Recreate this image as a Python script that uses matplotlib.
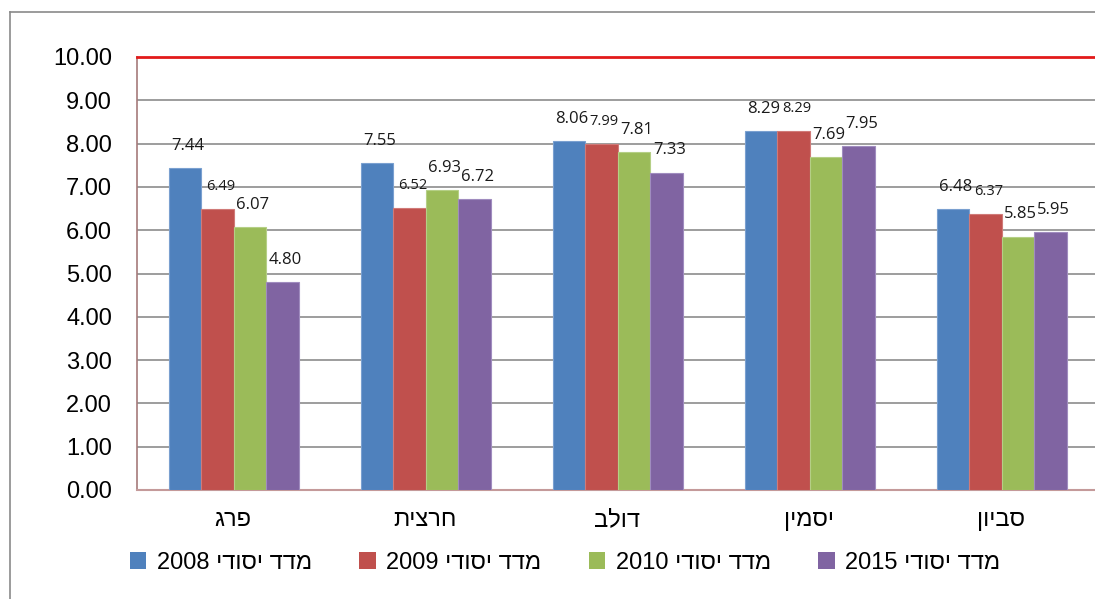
import matplotlib
matplotlib.use("Agg")
import matplotlib.pyplot as plt
from matplotlib.lines import Line2D
from matplotlib.patches import Patch
import numpy as np

categories = ["פרג", "חרצית", "דולב", "יסמין", "סביון"]
series_names = ["מדד יסודי 2008", "מדד יסודי 2009", "מדד יסודי 2010", "מדד יסודי 2015"]
v2008 = [7.44, 7.55, 8.06, 8.29, 6.48]
v2009 = [6.49, 6.52, 7.99, 8.29, 6.37]
v2010 = [6.07, 6.93, 7.81, 7.69, 5.85]
v2015 = [4.80, 6.72, 7.33, 7.95, 5.95]
yticks = [0, 1, 2, 3, 4, 5, 6, 7, 8, 9, 10]

colors = ["#4f81bd", "#c0504d", "#9bbb59", "#8064a2"]
edges = ["#7aa0d0", "#d07a78", "#b5cf86", "#a08cbf"]
label_sizes = [12, 10.5, 12, 12]


def visual(s):
    # simple bidi: reverse word order and reverse Hebrew words
    words = s.split(" ")
    out = []
    for w in reversed(words):
        if any('\u0590' <= c <= '\u05ff' for c in w):
            out.append(w[::-1])
        else:
            out.append(w)
    return " ".join(out)


plt.rcParams['font.family'] = ['Liberation Sans', 'DejaVu Sans']

W, H = 1095, 599
fig = plt.figure(figsize=(W / 100, H / 100), dpi=100)
ax = fig.add_axes([137 / W, 1 - 490 / H, 960 / W, (490 - 57) / H])

data = [v2008, v2009, v2010, v2015]
n = len(categories)
x = np.arange(n)
bw = 0.169
for i, vals in enumerate(data):
    xs = x + (i - 1.5) * bw + 0.004
    ax.bar(xs, vals, width=bw, color=colors[i], edgecolor=edges[i], linewidth=0.8,
           zorder=3, label=visual(series_names[i]))
    for xi, v in zip(xs, vals):
        ax.annotate(f"{v:.2f}", (xi, v), xytext=(2, 16), textcoords="offset points",
                    ha="center", va="center", fontsize=label_sizes[i],
                    family=["Open Sans", "DejaVu Sans"], color="#1a1a1a", zorder=5)

ax.set_xlim(-0.5, n - 0.5)
ax.set_ylim(0, 10)
ax.set_yticks(yticks)
ax.set_yticklabels([f"{t:.2f}" for t in yticks], fontsize=17)
ax.set_xticks(x)
ax.set_xticklabels([visual(c) for c in categories], fontsize=17)
ax.tick_params(axis="y", length=0, pad=18)
ax.tick_params(axis="x", length=0, pad=14)

for t in yticks[1:-1]:
    ax.axhline(t, color="#8c8c8c", lw=1.2, zorder=1)
ax.axhline(10, color="#e21a1a", lw=2, zorder=4, clip_on=False)

for s in ["top", "right"]:
    ax.spines[s].set_visible(False)
ax.spines["left"].set_color("#a57a7a")
ax.spines["bottom"].set_color("#c49a9a")
ax.spines["left"].set_linewidth(1.2)
ax.spines["bottom"].set_linewidth(1.5)

handles = [Patch(facecolor=colors[i], edgecolor="none") for i in range(4)]
leg = fig.legend(handles, [visual(s) for s in series_names], loc="center",
                 bbox_to_anchor=(565 / W, 1 - 563 / H), ncol=4, frameon=False,
                 fontsize=17, handlelength=0.7, handleheight=0.7,
                 handletextpad=0.45, columnspacing=2.0)

# outer chart border
fig.add_artist(Line2D([10 / W, 10 / W], [0, 1 - 12 / H], transform=fig.transFigure,
                      color="#8a8a8a", lw=1.2))
fig.add_artist(Line2D([10 / W, 1], [1 - 12 / H, 1 - 12 / H], transform=fig.transFigure,
                      color="#8a8a8a", lw=1.2))

fig.savefig("out.png", dpi=100)
